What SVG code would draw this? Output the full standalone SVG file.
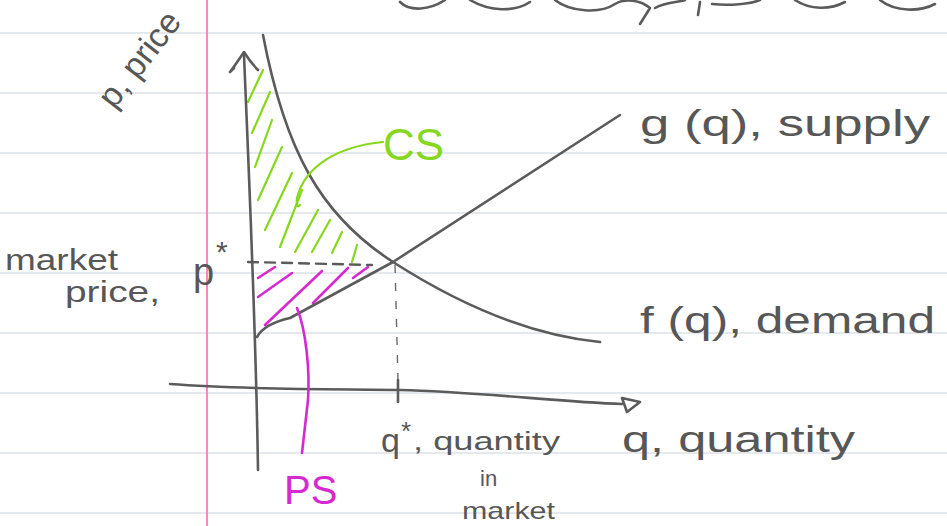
<svg xmlns="http://www.w3.org/2000/svg" width="947" height="526" viewBox="0 0 947 526">
<style>
.rule{stroke:#ccd3dc;stroke-width:1.2}
.pen{fill:none;stroke:#5b5b5b;stroke-width:2.6;stroke-linecap:round;stroke-linejoin:round}
.dash{fill:none;stroke:#5b5b5b;stroke-width:2.4;stroke-dasharray:10 7;stroke-linecap:round}
.vdash{fill:none;stroke:#6a6a6a;stroke-width:1.4;stroke-dasharray:8 10}
.g{fill:none;stroke:#86d81e;stroke-width:2.2;stroke-linecap:round}
.m{fill:none;stroke:#d62ad0;stroke-width:2.6;stroke-linecap:round}
.t{font-family:"Liberation Sans",Arial,sans-serif;fill:#575757}
</style>
<rect width="947" height="526" fill="#ffffff"/>
<g id="paper">
<line class="rule" x1="0" y1="33" x2="947" y2="33"/>
<line class="rule" x1="0" y1="93" x2="947" y2="93"/>
<line class="rule" x1="0" y1="153" x2="947" y2="153"/>
<line class="rule" x1="0" y1="213" x2="947" y2="213"/>
<line class="rule" x1="0" y1="273" x2="947" y2="273"/>
<line class="rule" x1="0" y1="333" x2="947" y2="333"/>
<line class="rule" x1="0" y1="393" x2="947" y2="393"/>
<line class="rule" x1="0" y1="453" x2="947" y2="453"/>
<line class="rule" x1="0" y1="513" x2="947" y2="513"/>
<line x1="207" y1="0" x2="207" y2="526" stroke="#f28ac0" stroke-width="2"/>
<path class="pen" stroke-width="2" d="M400,2 C410,12 430,10 445,0 M470,0 C490,12 515,12 530,2 M555,0 C570,12 600,14 615,4 C625,-2 640,0 650,8 L640,24 M655,8 C665,2 680,2 685,0 M700,2 L698,15 M712,4 C730,6 750,4 760,0 M795,0 C810,10 830,10 845,2 M880,0 C895,12 920,12 935,4"/>
</g>
<g id="cs-region">
<path class="g" d="M263,70 L248,102 M270,92 L252,133 M272,120 L255,167 M282,147 L258,200 M292,173 L265,230 M302,190 L280,247 M318,210 L295,252 M330,220 L312,252 M342,232 L332,253 M357,245 L352,262"/>
</g>
<g id="ps-region">
<path class="m" d="M275,267 L258,278 M292,273 L258,297 M322,271 L265,325 M348,268 L313,303 M368,267 L353,278"/>
</g>
<g id="connectors">
<path class="pen" d="M258,470 C256,330 250,200 244,55"/>
<path class="pen" d="M230,72 C236,64 240,58 244,52 C249,60 253,65 258,70 M230,72 L234,68"/>
<path class="pen" d="M170,384 C250,390 330,389 400,390 C480,392 560,402 622,404"/>
<path class="pen" d="M622,398 L640,402 L627,412 Z"/>
<path class="pen" d="M263,35 C285,150 320,215 393,262 C460,305 530,335 600,342"/>
<path class="pen" d="M257,337 C262,328 272,322 290,318 L393,262 L620,115"/>
<path class="dash" d="M248,262 L372,265"/>
<path class="vdash" d="M395,265 L398,380"/>
<path class="pen" d="M398,380 L398,402"/>
<path class="g" stroke-width="2" d="M383,142 C340,146 305,165 297,198 C296,205 298,208 300,205"/>
<path class="m" stroke-width="2" d="M297,308 C306,330 310,370 308,400 L302,453"/>
</g>
<g id="label-price">
<text class="t" font-size="34" transform="translate(114,110) rotate(-52)">p, price</text>
</g>
<g id="label-market-price">
<text class="t" font-size="30" x="5" y="270" textLength="113" lengthAdjust="spacingAndGlyphs">market</text>
<text class="t" font-size="30" x="65" y="302" textLength="95" lengthAdjust="spacingAndGlyphs">price,</text>
<text class="t" font-size="38" x="193" y="285">p</text>
<text class="t" font-size="30" x="216" y="262">*</text>
</g>
<g id="label-supply">
<text class="t" font-size="36" x="640" y="136" textLength="290" lengthAdjust="spacingAndGlyphs">g (q), supply</text>
</g>
<g id="label-demand">
<text class="t" font-size="36" x="640" y="333" textLength="295" lengthAdjust="spacingAndGlyphs">f (q), demand</text>
</g>
<g id="label-cs">
<text class="t" font-size="44" x="383" y="160" style="fill:#86d81e">CS</text>
</g>
<g id="label-ps">
<text class="t" font-size="40" x="284" y="504" style="fill:#d62ad0">PS</text>
</g>
<g id="label-qstar">
<text class="t" font-size="34" x="381" y="452">q</text>
<text class="t" font-size="26" x="401" y="440">*</text>
<text class="t" font-size="26" x="413" y="450" textLength="147" lengthAdjust="spacingAndGlyphs">, quantity</text>
<text class="t" font-size="22" x="480" y="486">in</text>
<text class="t" font-size="24" x="462" y="519" textLength="93" lengthAdjust="spacingAndGlyphs">market</text>
</g>
<g id="label-quantity">
<text class="t" font-size="36" x="622" y="452" textLength="233" lengthAdjust="spacingAndGlyphs">q, quantity</text>
</g>
</svg>
